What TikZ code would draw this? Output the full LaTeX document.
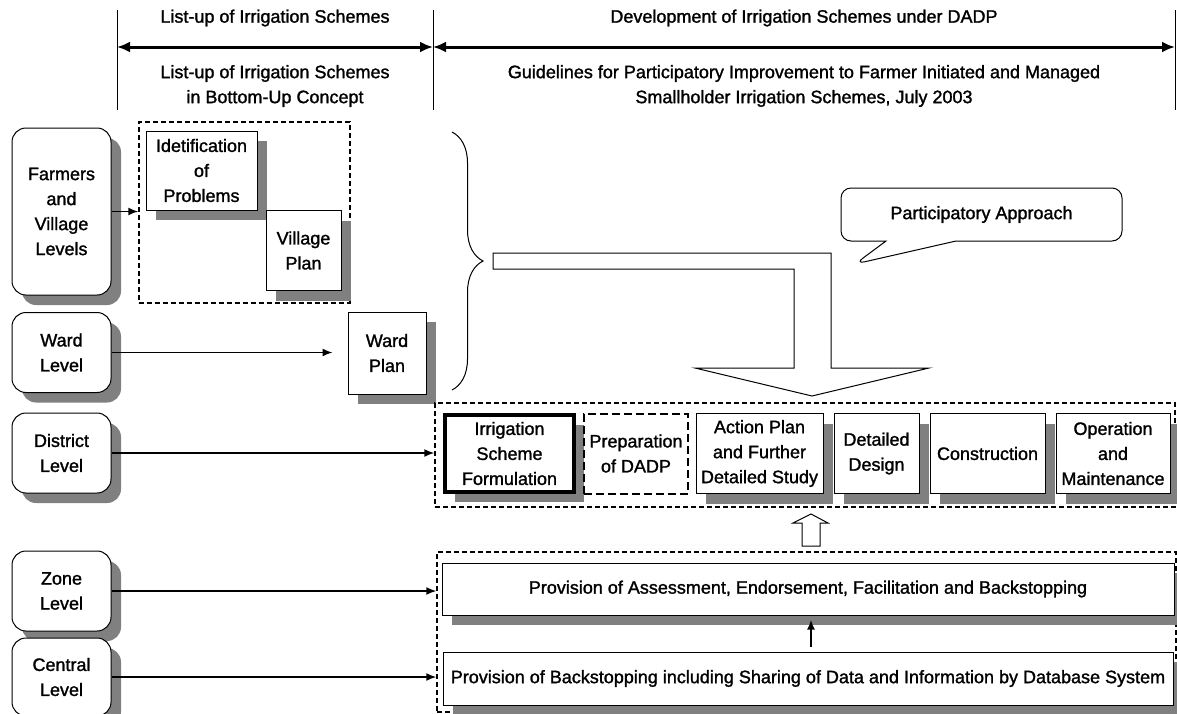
\documentclass[tikz,border=0pt]{standalone}
\usepackage{fontspec}
\setmainfont{Liberation Sans}[FakeBold=1.4]
\usetikzlibrary{arrows.meta, shapes.callouts, shadows, decorations.pathreplacing}
\tikzstyle{boxshadow} = [drop shadow={shadow xshift=10pt, shadow yshift=-10pt, fill=black!50, opacity=1}]
\tikzstyle{levelbox} = [rectangle, rounded corners=14pt, minimum width=99pt, minimum height=80pt, inner sep=1pt, align=center, draw=black, line width=1pt, fill=white, boxshadow]
\tikzstyle{stepbox} = [rectangle, minimum height=80pt, inner sep=1pt, align=center, draw=black, line width=1pt, fill=white, boxshadow]
\tikzstyle{groupbox} = [rectangle, draw=black, line width=1.5pt, dash pattern=on 5pt off 3pt]
\tikzstyle{conn} = [-{Latex[length=10pt,width=8pt]}, line width=1.5pt]
\tikzstyle{spanarrow} = [{Latex[length=13pt,width=11pt]}-{Latex[length=13pt,width=11pt]}, line width=3pt]

\begin{document}
\begin{tikzpicture}[x=1pt, y=-1pt, node distance=120pt, font=\fontsize{18pt}{25pt}\selectfont]
\useasboundingbox (0,0) rectangle (1177,713);

% header
\coordinate (h0) at (117,47);
\coordinate (h1) at (433,47);
\coordinate (h2) at (1175,47);
\foreach \c in {h0,h1,h2} \draw [line width=1pt] (\c) ++(0,-37) -- ++(0,100);
\draw [spanarrow] (h0) -- (h1);
\draw [spanarrow] (h1) -- (h2);
\node (t1) at (275,18) {List-up of Irrigation Schemes};
\node (t2) [align=center] at (275,86) {List-up of Irrigation Schemes\\in Bottom-Up Concept};
\node (t3) at (804,18) {Development of Irrigation Schemes under DADP};
\node (t4) [align=center] at (804,86) {Guidelines for Participatory Improvement to Farmer Initiated and Managed\\Smallholder Irrigation Schemes, July 2003};

% levels
\node (farmers) [levelbox, minimum height=167pt] at (61.5,211.5) {Farmers\\and\\Village\\Levels};
\node (ward) [levelbox] at (61.5,352.5) {Ward\\Level};
\node (district) [levelbox] at (61.5,453) {District\\Level};
\node (zone) [levelbox] at (61.5,591) {Zone\\Level};
\node (central) [levelbox, minimum height=78pt] at (61.5,677) {Central\\Level};

% bottom-up
\node (grp1) [groupbox, minimum width=211pt, minimum height=181pt] at (244.5,212.5) {};
\node (ident) [stepbox, minimum width=111pt, minimum height=79pt] at (201.5,170.5) {Idetification\\of\\Problems};
\node (village) [stepbox, minimum width=75pt] at (303.5,250.5) {Village\\Plan};
\node (wardplan) [stepbox, minimum width=78pt, minimum height=82pt] at (387,353) {Ward\\Plan};

\draw [line width=1pt, decorate, decoration={brace, amplitude=31pt}] (452,132) -- (452,390);
\draw [line width=1pt] (493,253) -- (831,253) -- (831,368) -- (929,368) -- (812,396) -- (695,368) -- (794,368) -- (794,269) -- (493,269) -- cycle;
\node (callout) [rectangle callout, draw, line width=1pt, rounded corners=10pt, minimum width=281pt, minimum height=53pt, callout absolute pointer={(855,264)}, callout pointer width=70pt] at (981.5,214.5) {Participatory Approach};

% DADP steps
\node (grp3) [groupbox, minimum width=740pt, minimum height=104pt] at (805,455) {};
\node (irr) [stepbox, line width=4pt, minimum width=129pt, minimum height=77pt] at (509.5,453.5) {Irrigation\\Scheme\\Formulation};
\node (prep) [rectangle, draw, line width=2pt, dash pattern=on 8pt off 4pt, minimum width=104pt, minimum height=80pt, inner sep=1pt, align=center, right of=irr, xshift=6.5pt] {Preparation\\of DADP};
\node (action) [stepbox, minimum width=127pt, right of=prep, xshift=3.5pt] {Action Plan\\and Further\\Detailed Study};
\node (design) [stepbox, minimum width=85pt, right of=action, xshift=-3pt] {Detailed\\Design};
\node (constr) [stepbox, minimum width=115pt, right of=design, xshift=-9pt] {Construction};
\node (oper) [stepbox, minimum width=114pt, right of=constr, xshift=5.5pt] {Operation\\and\\Maintenance};

\draw [line width=1pt] (802,546) -- (820,546) -- (820,523) -- (828,523) -- (811,514) -- (793,523) -- (802,523) -- cycle;

% support
\node (grp4) [groupbox, minimum width=739pt, minimum height=160pt] at (806.5,632) {};
\node (prov1) [stepbox, minimum width=732pt, minimum height=52pt] at (808,589) {Provision of Assessment, Endorsement, Facilitation and Backstopping};
\node (prov2) [stepbox, minimum width=730pt, minimum height=53pt] at (808,678.5) {Provision of Backstopping including Sharing of Data and Information by Database System};

\draw [conn] (farmers.east) -- (farmers.east -| grp1.west);
\draw [conn, shorten >=15pt] (ward.east) -- (ward.east -| wardplan.west);
\draw [conn] (district.east) -- (district.east -| grp3.west);
\draw [conn] (zone.east) -- (zone.east -| grp4.west);
\draw [conn] (central.east) -- (central.east -| grp4.west);
\draw [conn, line width=2pt] ([xshift=3pt,yshift=5pt]prov2.north) -- ([xshift=3pt,yshift=-4pt]prov1.south);

\end{tikzpicture}
\end{document}
